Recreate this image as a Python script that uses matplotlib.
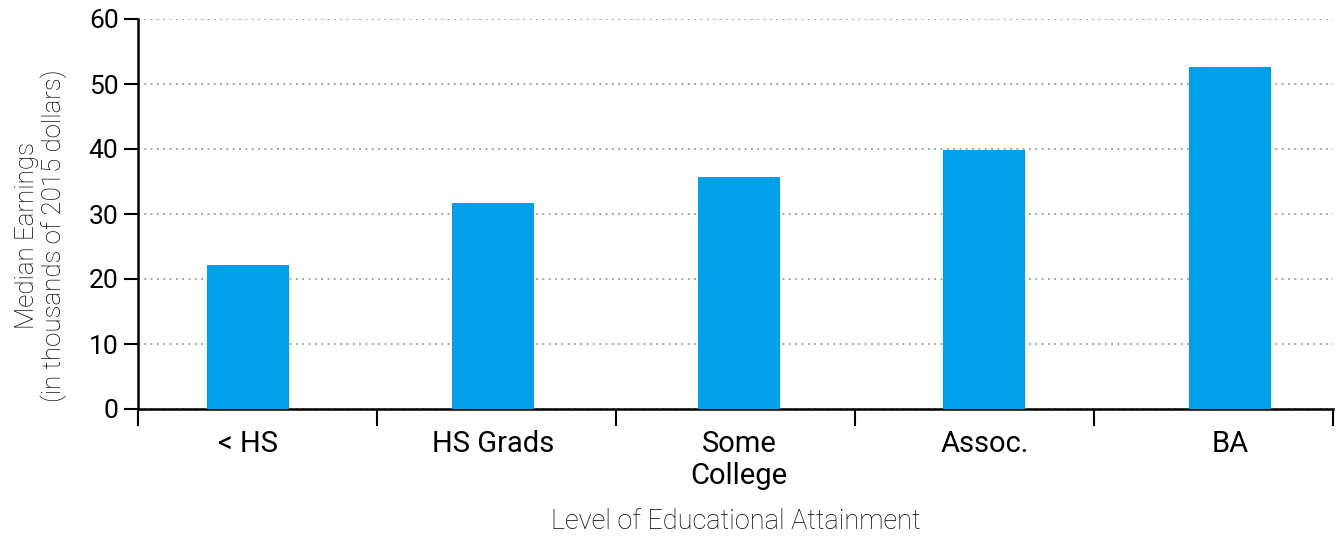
import numpy as np
import matplotlib
matplotlib.use('Agg')
import matplotlib.pyplot as plt

categories = ['< HS', 'HS Grads', 'Some\nCollege', 'Assoc.', 'BA']
earnings = [22.2, 31.7, 35.7, 39.8, 52.6]

plt.rcParams['font.family'] = ['Roboto', 'DejaVu Sans']

fig = plt.figure(figsize=(13.41, 5.39), dpi=100)
ax = fig.add_axes([138 / 1341, 130 / 539, 1195 / 1341, 390 / 539])

# bars sit a bit off the category boundaries, like in the original
pos = np.arange(len(categories)) * 1.027 + 0.46
ax.bar(pos, earnings, width=0.343, color='#00A0E9', zorder=3)

ax.set_xlim(0, 5)
ax.set_ylim(0, 60)
ax.set_yticks(range(0, 61, 10))
ax.set_xticks(range(6))
ax.set_xticklabels([])
ax.set_xticks(pos, minor=True)
ax.set_xticklabels(categories, minor=True, fontsize=21, linespacing=1.2)
ax.tick_params(axis='x', which='minor', length=0, pad=15)
ax.tick_params(axis='x', which='major', length=12, width=1.5, direction='out')
ax.tick_params(axis='y', length=10, width=1.5, labelsize=19, pad=4)

ax.yaxis.grid(True, linestyle=(0, (1, 2.5)), color='#999999', linewidth=1.3)
ax.set_axisbelow(True)

for s in ['top', 'right']:
    ax.spines[s].set_visible(False)
ax.spines['left'].set_linewidth(1.8)
ax.spines['bottom'].set_linewidth(1.8)

ax.set_xlabel('Level of Educational Attainment', fontsize=19.5, fontweight='light',
              color='black', labelpad=13)
ax.set_ylabel('Median Earnings\n(in thousands of 2015 dollars)', fontsize=18.7,
              fontweight='light', color='black', labelpad=16, linespacing=1.05, y=0.445)

fig.savefig('out.png', dpi=100)
